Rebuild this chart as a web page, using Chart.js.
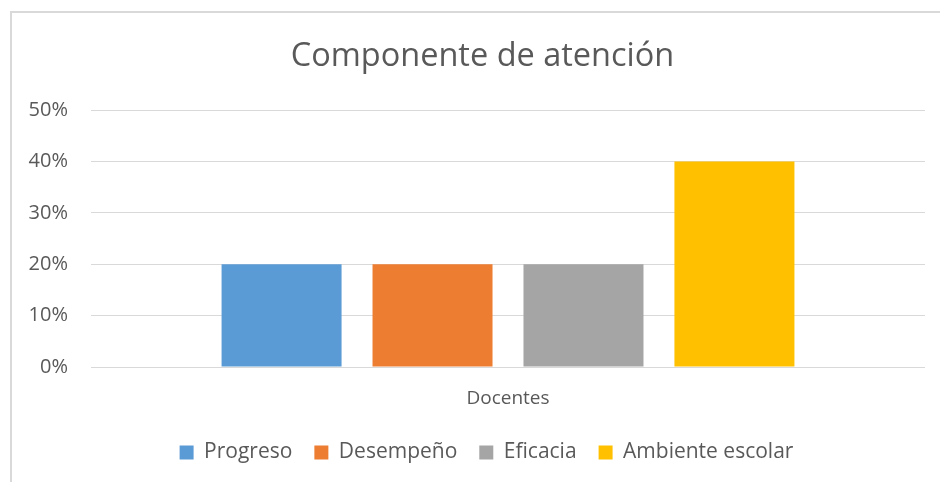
<!DOCTYPE html>
<html>
<head>
<meta charset="utf-8">
<script src="https://cdn.jsdelivr.net/npm/chart.js@4/dist/chart.umd.min.js"></script>
<style>
  body { margin: 0; background: #fff; }
  #frame { position: absolute; left: 10px; top: 11px; width: 960px; height: 500px; border: 2px solid #d9d9d9; box-sizing: border-box; }
  #wrap { position: absolute; left: 0; top: 0; width: 940px; height: 482px; }
</style>
</head>
<body>
<div id="frame"></div>
<div id="wrap"><canvas id="chart" width="940" height="482"></canvas></div>
<script>
// Chart data
const categories = ['Docentes'];
const seriesNames = ['Progreso', 'Desempeño', 'Eficacia', 'Ambiente escolar'];
const seriesValues = [[0.20], [0.20], [0.20], [0.40]];
const seriesColors = ['#5b9bd5', '#ed7d31', '#a5a5a5', '#ffc000'];
const yTicks = [0, 0.1, 0.2, 0.3, 0.4, 0.5];

const fontFamily = '"Open Sans", "Liberation Sans", sans-serif';
const textColor = '#595959';

// nudge title and legend to the right so they sit centred like the original
const shiftBlocks = {
    id: 'shiftBlocks',
    afterLayout(chart) {
        [[chart.titleBlock, 10], [chart.legend, 14]].forEach(([box, dx]) => {
            if (!box) return;
            box.left += dx;
            box.right += dx;
        });
    }
};

const ctx = document.getElementById('chart').getContext('2d');
const chart = new Chart(ctx, {
    type: 'bar',
    data: {
        labels: categories,
        datasets: seriesNames.map((name, i) => ({
            label: name,
            data: seriesValues[i],
            backgroundColor: seriesColors[i],
            borderWidth: 0,
            categoryPercentage: 0.724,
            barPercentage: 0.795
        }))
    },
    plugins: [shiftBlocks],
    options: {
        responsive: false,
        animation: false,
        layout: { padding: { left: 20, right: 15, top: 0, bottom: 9 } },
        plugins: {
            tooltip: { enabled: false },
            title: {
                display: true,
                text: 'Componente de atención',
                color: textColor,
                font: { family: fontFamily, size: 32.5, weight: 'normal' },
                padding: { top: 37, bottom: 34 }
            },
            legend: {
                position: 'bottom',
                labels: {
                    color: textColor,
                    font: { family: fontFamily, size: 21 },
                    boxWidth: 14,
                    boxHeight: 14,
                    padding: 22
                }
            }
        },
        scales: {
            x: {
                afterFit: function(scale) { scale.height = 53; },
                grid: { display: false },
                border: { display: false },
                ticks: {
                    color: textColor,
                    font: { family: fontFamily, size: 19 },
                    padding: 12
                }
            },
            y: {
                min: 0,
                max: 0.5,
                afterFit: function(scale) { scale.width = 71; },
                afterBuildTicks: function(scale) {
                    scale.ticks = yTicks.map(v => ({ value: v }));
                },
                grid: { color: '#d9d9d9', lineWidth: 1, drawTicks: false },
                border: { display: false },
                ticks: {
                    color: textColor,
                    font: { family: fontFamily, size: 20 },
                    padding: 23,
                    callback: v => Math.round(v * 100) + '%'
                }
            }
        }
    }
});
</script>
</body>
</html>
